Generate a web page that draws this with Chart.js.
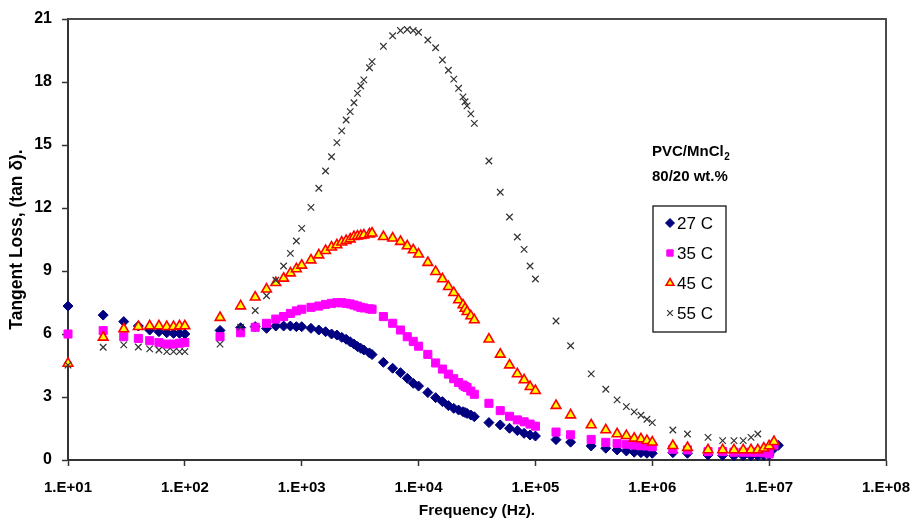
<!DOCTYPE html>
<html>
<head>
<meta charset="utf-8">
<title>Tangent loss vs frequency</title>
<script src="https://cdn.jsdelivr.net/npm/chart.js@4.4.1/dist/chart.umd.min.js"></script>
<style>
  html, body { margin: 0; padding: 0; background: #fff; }
  canvas { display: block; }
</style>
</head>
<body>
<canvas id="lossChart" width="912" height="520"></canvas>
<script>
// Measurement frequencies (Hz), shared by all four temperature runs
const freqHz = [
  10, 20, 30, 40, 50, 60, 70, 80, 90, 100,
  200, 300, 400, 500, 600, 700, 800, 900, 1000,
  1200, 1400, 1600, 1800, 2000, 2200, 2400, 2600, 2800, 3000, 3200, 3400, 3800, 4000,
  5000, 6000, 7000, 8000, 9000, 10000,
  12000, 14000, 16000, 18000, 20000, 22000, 24000, 25000, 26000, 28000, 30000,
  40000, 50000, 60000, 70000, 80000, 90000, 100000,
  150000, 200000, 300000, 400000, 500000, 600000, 700000, 800000, 900000, 1000000,
  1500000, 2000000, 3000000, 4000000, 5000000, 6000000, 7000000, 8000000, 9000000, 10000000, 11000000, 12000000
];

// tan delta at each frequency (null = no reading)
const tan27 = [
  7.33, 6.9, 6.59, 6.38, 6.19, 6.11, 6.06, 6.03, 6.03, 6.0,
  6.17, 6.3, 6.35, 6.27, 6.38, 6.38, 6.38, 6.35, 6.35,
  6.27, 6.19, 6.11, 6.0, 5.95, 5.84, 5.75, 5.63, 5.52, 5.4, 5.32, 5.24, 5.1, 5.02,
  4.65, 4.37, 4.16, 3.89, 3.65, 3.52,
  3.21, 2.97, 2.78, 2.59, 2.46, 2.38, 2.3, 2.26, 2.22, 2.14, 2.06,
  1.78, 1.67, 1.51, 1.4, 1.27, 1.19, 1.14,
  0.97, 0.85, 0.67, 0.56, 0.48, 0.43, 0.37, 0.35, 0.32, 0.32,
  0.35, 0.32, 0.24, 0.22, 0.2, 0.2, 0.2, 0.2, 0.22, 0.24, 0.55, 0.7
];
const tan35 = [
  6.0, 6.16, 5.87, 5.79, 5.68, 5.59, 5.52, 5.52, 5.56, 5.59,
  5.87, 6.06, 6.32, 6.51, 6.71, 6.83, 6.98, 7.1, 7.18,
  7.27, 7.33, 7.41, 7.46, 7.49, 7.49, 7.46, 7.43, 7.38, 7.33, 7.27, 7.24, 7.2, 7.18,
  6.83, 6.51, 6.19, 5.87, 5.65, 5.42,
  5.03, 4.62, 4.33, 4.09, 3.87, 3.69, 3.57, 3.5, 3.45, 3.28, 3.13,
  2.7, 2.35, 2.08, 1.91, 1.82, 1.71, 1.61,
  1.33, 1.2, 0.98, 0.84, 0.79, 0.75, 0.71, 0.68, 0.67, 0.63,
  0.51, 0.48, 0.4, 0.4, 0.37, 0.37, 0.37, 0.37, 0.35, 0.29, 0.71, null
];
const tan45 = [
  4.6, 5.84, 6.24, 6.35, 6.38, 6.38, 6.35, 6.35, 6.38, 6.38,
  6.78, 7.33, 7.75, 8.13, 8.44, 8.65, 8.9, 9.1, 9.27,
  9.52, 9.76, 9.97, 10.13, 10.24, 10.37, 10.44, 10.52, 10.63, 10.66, 10.68, 10.71, 10.76, 10.8,
  10.63, 10.56, 10.4, 10.19, 10.0, 9.8,
  9.4, 8.97, 8.62, 8.25, 7.97, 7.62, 7.38, 7.22, 7.06, 6.86, 6.67,
  5.75, 5.03, 4.52, 4.1, 3.81, 3.49, 3.3,
  2.59, 2.14, 1.67, 1.43, 1.24, 1.16, 1.03, 1.0, 0.92, 0.85,
  0.68, 0.59, 0.48, 0.48, 0.48, 0.48, 0.48, 0.48, 0.56, 0.67, 0.87, null
];
const tan55 = [
  4.52, 5.37, 5.48, 5.38, 5.29, 5.24, 5.16, 5.16, 5.16, 5.16,
  5.52, 6.33, 7.12, 7.82, 8.56, 9.24, 9.84, 10.43, 11.03,
  12.03, 12.94, 13.76, 14.44, 15.11, 15.67, 16.19, 16.59, 17.01, 17.46, 17.81, 18.1, 18.68, 18.97,
  19.7, 20.2, 20.45, 20.5, 20.45, 20.37,
  20.0, 19.63, 19.05, 18.56, 18.14, 17.7, 17.29, 17.06, 16.86, 16.48, 16.03,
  14.24, 12.75, 11.57, 10.62, 10.03, 9.24, 8.62,
  6.62, 5.44, 4.1, 3.37, 2.86, 2.54, 2.29, 2.13, 1.94, 1.78,
  1.43, 1.24, 1.08, 0.92, 0.92, 0.92, 1.08, 1.24, null, null, null, null
];

const seriesNames = ['27 C', '35 C', '45 C', '55 C'];

// Axis ticks
const xTickValues = [1e1, 1e2, 1e3, 1e4, 1e5, 1e6, 1e7, 1e8];
const xTickLabels = ['1.E+01', '1.E+02', '1.E+03', '1.E+04', '1.E+05', '1.E+06', '1.E+07', '1.E+08'];
const yTickValues = [0, 3, 6, 9, 12, 15, 18, 21];

const sampleLines = ['PVC/MnCl', '80/20 wt.%'];

function toPoints(values) {
  const pts = [];
  values.forEach((v, i) => {
    if (v !== null) pts.push({ x: freqHz[i], y: v });
  });
  return pts;
}

const family = "'Liberation Sans', Arial, sans-serif";
const xTickFont = { family, size: 15, weight: 'bold' };
const yTickFont = { family, size: 16, weight: 'bold' };

const styles = [
  { pointStyle: 'rectRot', radius: 5, backgroundColor: '#000080', borderColor: '#000080', borderWidth: 1 },
  { pointStyle: 'rect', radius: 5.7, backgroundColor: '#ff00ff', borderColor: '#ff00ff', borderWidth: 1 },
  { pointStyle: 'triangle', radius: 5.6, backgroundColor: '#ffff00', borderColor: '#ff0000', borderWidth: 1.6 },
  { pointStyle: 'crossRot', radius: 4.6, backgroundColor: '#333333', borderColor: '#333333', borderWidth: 1.2 }
];

const allValues = [tan27, tan35, tan45, tan55];

const datasets = allValues.map((vals, i) => ({
  label: seriesNames[i],
  data: toPoints(vals),
  showLine: false,
  clip: false,
  pointStyle: styles[i].pointStyle,
  pointRadius: styles[i].radius,
  pointBackgroundColor: styles[i].backgroundColor,
  pointBorderColor: styles[i].borderColor,
  pointBorderWidth: styles[i].borderWidth,
  // 27 C underneath, 55 C on top
  order: 4 - i
}));

// frame on the top and right, plus the sample note and the series key
const framePlugin = {
  id: 'frameAndKey',
  afterDraw(chart) {
    const { ctx, chartArea } = chart;
    ctx.save();
    ctx.strokeStyle = '#4a4a4a';
    ctx.lineWidth = 2;
    ctx.beginPath();
    ctx.moveTo(chartArea.left, chartArea.top);
    ctx.lineTo(chartArea.right, chartArea.top);
    ctx.lineTo(chartArea.right, chartArea.bottom);
    ctx.stroke();

    // sample description
    ctx.fillStyle = '#000';
    ctx.textBaseline = 'middle';
    ctx.textAlign = 'left';
    ctx.font = "bold 15px " + family;
    ctx.fillText(sampleLines[0], 652, 152);
    const w = ctx.measureText(sampleLines[0]).width;
    ctx.font = "bold 10px " + family;
    ctx.fillText('2', 652 + w + 0.5, 157);
    ctx.font = "bold 15px " + family;
    ctx.fillText(sampleLines[1], 652, 177);

    // key box
    ctx.strokeStyle = '#000';
    ctx.lineWidth = 1.2;
    ctx.strokeRect(653, 206, 73, 126);
    ctx.font = "17px " + family;
    seriesNames.forEach((name, i) => {
      const y = 223 + i * 30;
      const s = styles[i];
      ctx.fillStyle = s.backgroundColor;
      ctx.strokeStyle = s.borderColor;
      ctx.lineWidth = s.borderWidth;
      const r = i === 3 ? 4 : 4.5;
      Chart.helpers.drawPoint(ctx, { pointStyle: s.pointStyle, radius: r, borderWidth: s.borderWidth, rotation: 0 }, 670, y);
      ctx.fillStyle = '#000';
      ctx.fillText(name, 677, y + 1);
    });
    ctx.restore();
  }
};

new Chart(document.getElementById('lossChart').getContext('2d'), {
  type: 'scatter',
  data: { datasets },
  options: {
    responsive: false,
    devicePixelRatio: 1,
    animation: false,
    layout: { padding: { left: 0, right: 26, top: 19, bottom: 0 } },
    plugins: {
      legend: { display: false },
      tooltip: { enabled: false }
    },
    scales: {
      x: {
        type: 'logarithmic',
        min: 10,
        max: 1e8,
        afterBuildTicks: axis => { axis.ticks = xTickValues.map(v => ({ value: v, major: true })); },
        afterFit: axis => { axis.height = 60; axis.paddingLeft = 0; axis.paddingRight = 0; },
        grid: { drawOnChartArea: false, drawTicks: true, tickLength: 6, tickWidth: 1.5, tickColor: '#333' },
        border: { display: true, color: '#333', width: 2 },
        ticks: {
          font: xTickFont,
          color: '#000',
          padding: 13,
          maxRotation: 0,
          autoSkip: false,
          callback: (v, i) => xTickLabels[i]
        },
        title: { display: true, text: 'Frequency (Hz).', font: { family, size: 15.5, weight: 'bold' }, color: '#000', padding: { top: 0, bottom: 0 } }
      },
      y: {
        min: 0,
        max: 21,
        afterBuildTicks: axis => { axis.ticks = yTickValues.map(v => ({ value: v })); },
        afterFit: axis => { axis.width = 68; axis.paddingTop = 0; axis.paddingBottom = 0; },
        grid: { drawOnChartArea: false, drawTicks: true, tickLength: 6, tickWidth: 1.5, tickColor: '#333' },
        border: { display: true, color: '#333', width: 2 },
        ticks: { font: yTickFont, color: '#000', padding: 10 },
        title: { display: true, text: 'Tangent Loss, (tan δ).', font: { family, size: 17.5, weight: 'bold' }, color: '#000', padding: { top: 7, bottom: 0 } }
      }
    }
  },
  plugins: [framePlugin]
});
</script>
</body>
</html>
